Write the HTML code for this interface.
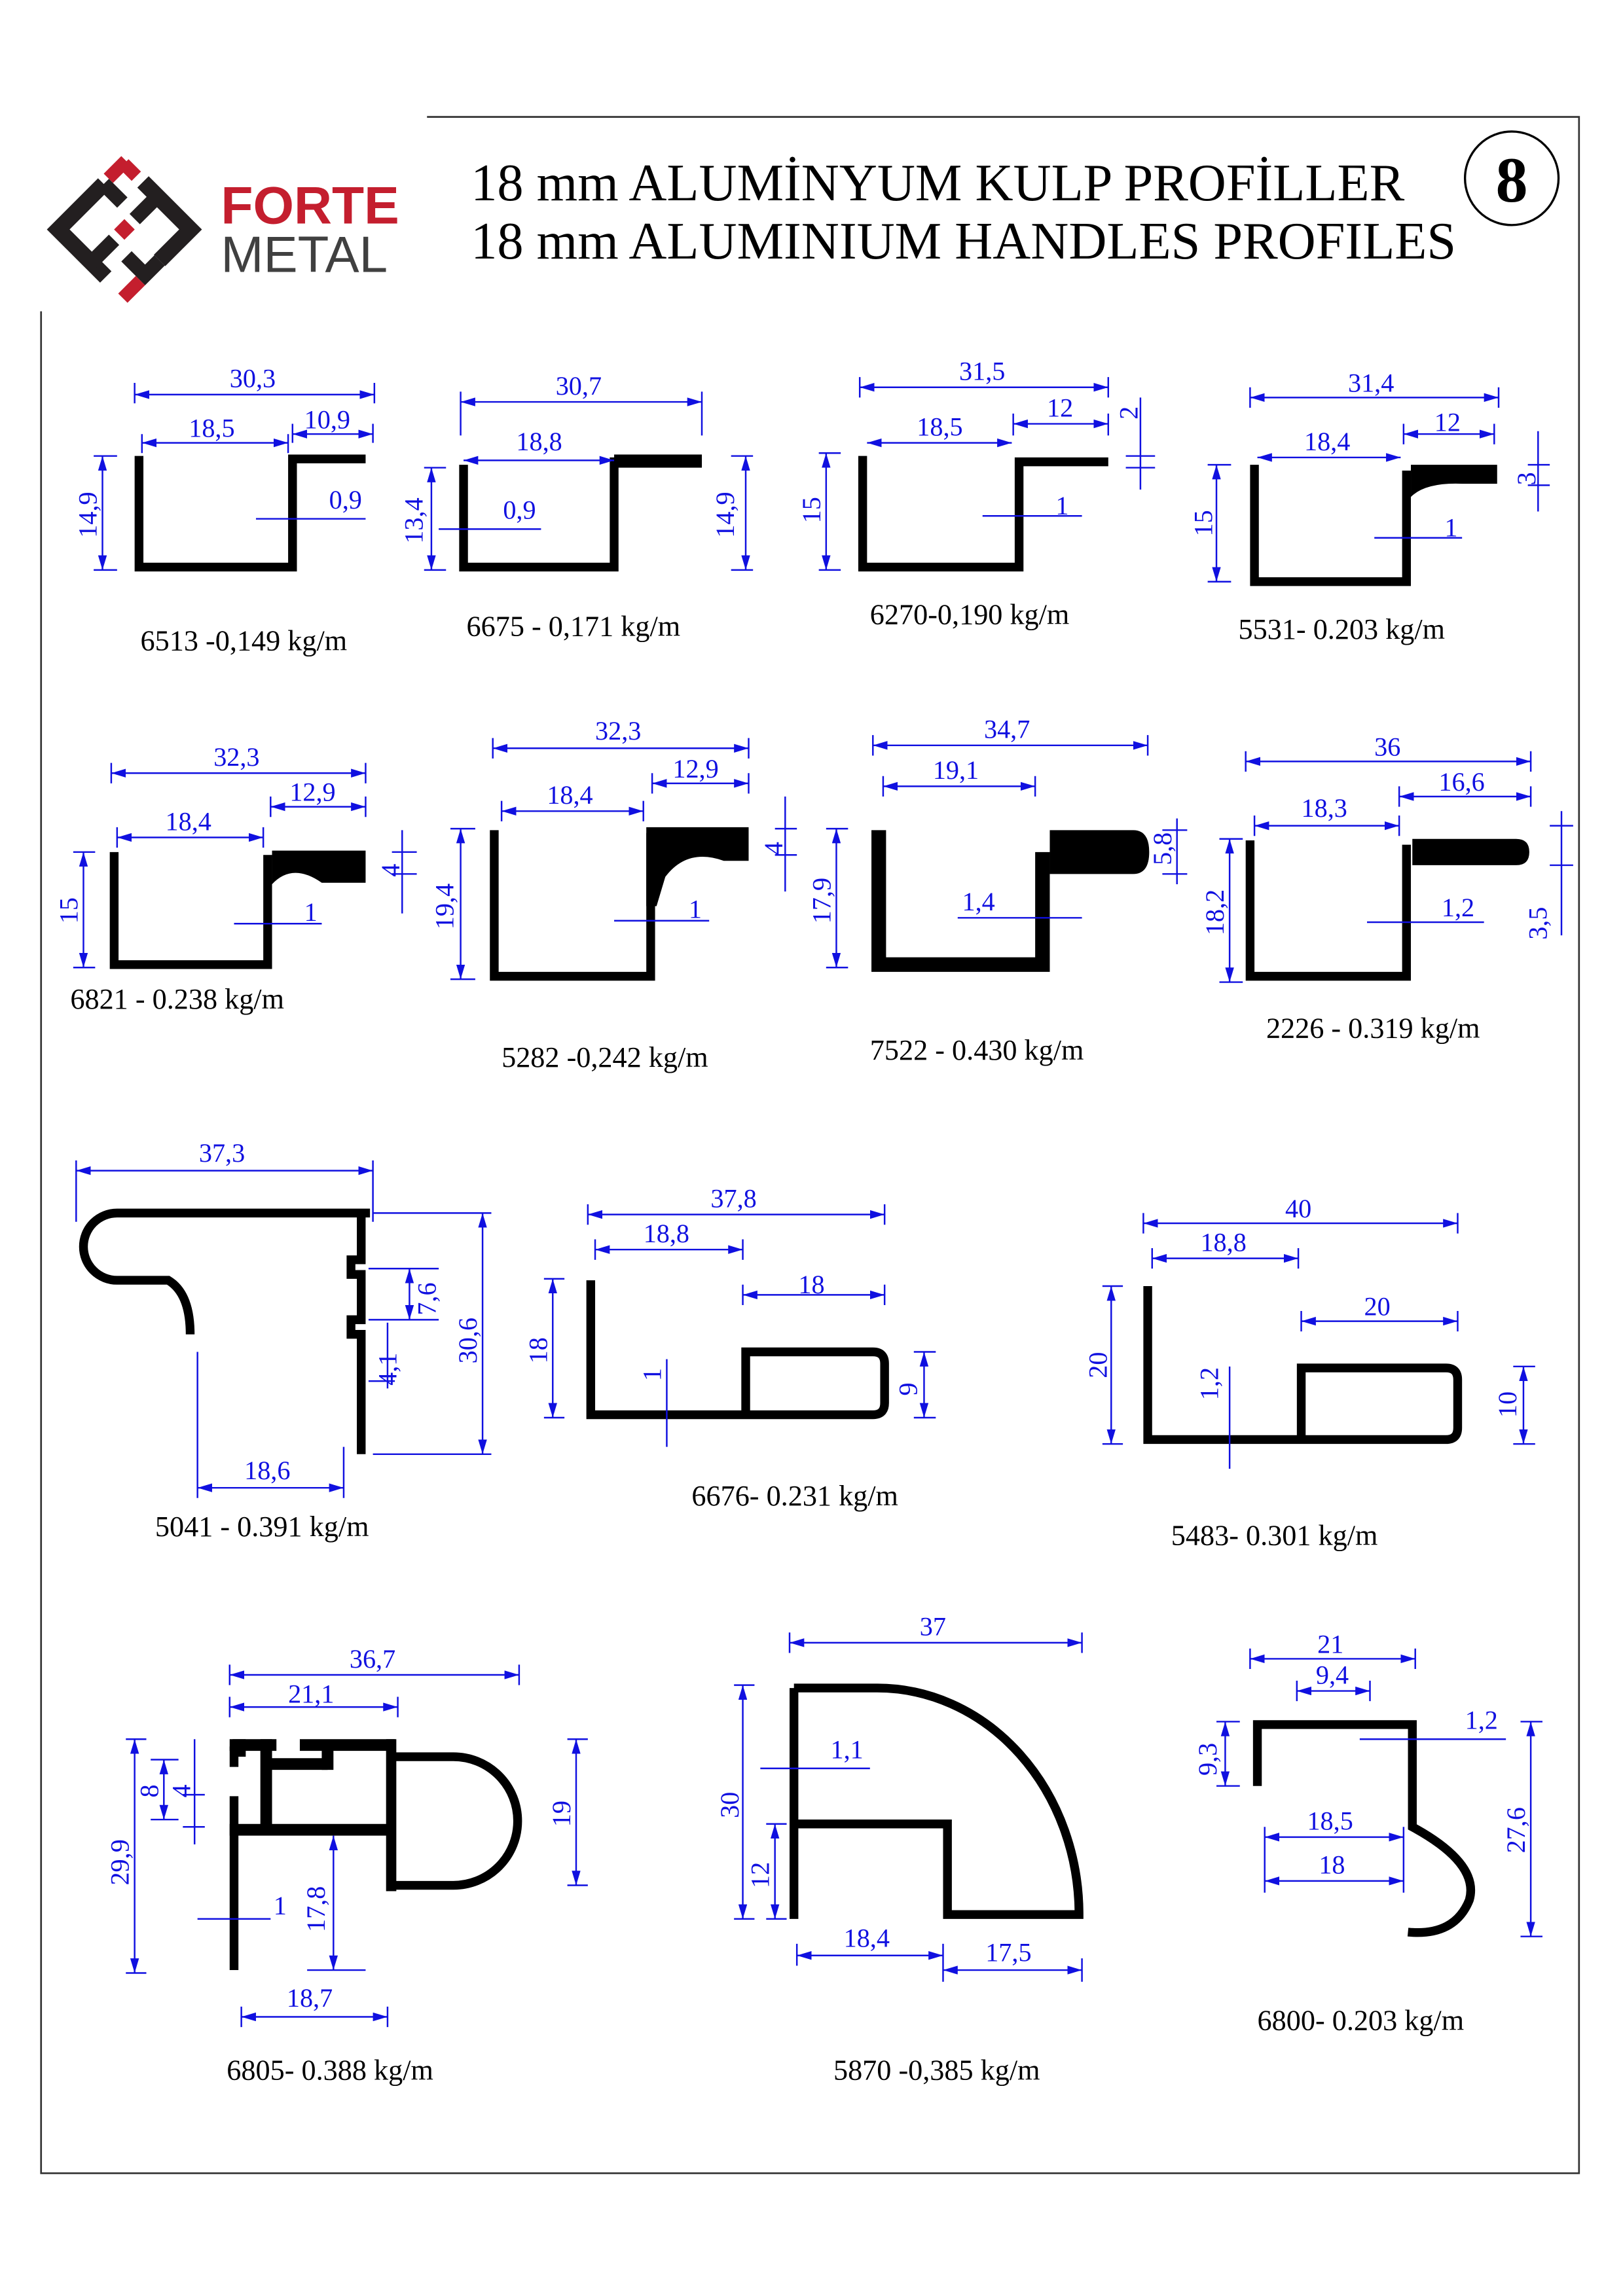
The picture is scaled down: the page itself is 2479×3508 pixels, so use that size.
<!DOCTYPE html>
<html><head><meta charset="utf-8"><style>
html,body{margin:0;padding:0;background:#fff}
svg{display:block}
.d{stroke:#1010e0;stroke-width:1.1;fill:none}
.a{stroke:#1010e0;stroke-width:1.1;fill:none;marker-start:url(#ms);marker-end:url(#me)}
.t{fill:#1010e0;font-family:"Liberation Serif",serif;font-size:18px}
.l{fill:#000;font-family:"Liberation Serif",serif;font-size:19.8px}
.p{stroke:#000;stroke-width:6;fill:none;stroke-linejoin:miter}
.f{fill:#000}
</style></head><body>
<svg width="2479" height="3508" viewBox="0 0 1110 1571" xmlns="http://www.w3.org/2000/svg">
<defs>
<marker id="me" viewBox="0 0 10 6" refX="10" refY="3" markerWidth="10" markerHeight="6" markerUnits="userSpaceOnUse" orient="auto"><path d="M0,0L10,3L0,6z" fill="#1010e0"/></marker>
<marker id="ms" viewBox="0 0 10 6" refX="0" refY="3" markerWidth="10" markerHeight="6" markerUnits="userSpaceOnUse" orient="auto"><path d="M10,0L0,3L10,6z" fill="#1010e0"/></marker>
</defs>
<rect width="1110" height="1571" fill="#fff"/>
<path d="M292,80H1080V1487H28V213" stroke="#333" stroke-width="1.2" fill="none"/>
<circle cx="1034" cy="122" r="32" stroke="#000" stroke-width="1.5" fill="none"/>
<text x="1034" y="138" text-anchor="middle" font-family="Liberation Serif,serif" font-size="44" font-weight="bold">8</text>
<text x="322" y="137" font-family="Liberation Serif,serif" font-size="36">18 mm ALUMİNYUM KULP PROFİLLER</text>
<text x="322" y="177" font-family="Liberation Serif,serif" font-size="36">18 mm ALUMINIUM HANDLES PROFILES</text>
<!-- logo -->
<g transform="translate(85,157) rotate(45)">
<path d="M-14,-32H32V-2" stroke="#231f20" stroke-width="11" fill="none"/>
<path d="M-32,-12V32H14" stroke="#231f20" stroke-width="11" fill="none"/>
<path d="M0,-32V-10M0,10V32" stroke="#231f20" stroke-width="10" fill="none"/>
<path d="M-32,-12H-14M14,12H32V-2" stroke="#231f20" stroke-width="10" fill="none"/>
<rect x="-5" y="-5" width="10" height="10" fill="#c41e2e"/>
<rect x="-32" y="-36" width="12" height="9" fill="#c41e2e" transform="translate(0,0)"/>
<rect x="-38" y="-30" width="9" height="0" fill="#c41e2e"/>
<rect x="-37" y="-34" width="9" height="17" fill="#c41e2e"/>
<rect x="28" y="17" width="9" height="17" fill="#c41e2e"/>
</g>
<text x="151" y="153" font-family="Liberation Sans,sans-serif" font-size="36" font-weight="bold" fill="#c41e2e">FORTE</text>
<text x="151" y="186" font-family="Liberation Sans,sans-serif" font-size="35" fill="#404040">METAL</text>

<!-- 6513 -->
<path class="p" d="M95,312V388H200V314H250"/>
<path class="d" d="M92,262V276M256,262V276M97,297V310M197,297V310M200,290V303M255,290V303M64,312H80M64,390H80"/>
<line class="a" x1="92" y1="270" x2="256" y2="270"/><text class="t" x="157" y="265">30,3</text>
<line class="a" x1="97" y1="303" x2="197" y2="303"/><text class="t" x="129" y="299">18,5</text>
<line class="a" x1="200" y1="297" x2="255" y2="297"/><text class="t" x="208" y="293">10,9</text>
<line class="a" x1="70" y1="312" x2="70" y2="390"/><text class="t" transform="translate(66,368) rotate(-90)">14,9</text>
<path class="d" d="M175,355H250"/><text class="t" x="225" y="348">0,9</text>
<text class="l" x="96" y="445">6513 -0,149 kg/m</text>

<!-- 6675 -->
<path class="p" d="M317,318V388H420V316H480"/><rect class="f" x="420" y="311" width="60" height="9"/>
<path class="d" d="M315,268V298M480,268V298M290,320H305M290,390H305M500,312H515M500,390H515"/>
<line class="a" x1="315" y1="275" x2="480" y2="275"/><text class="t" x="380" y="270">30,7</text>
<line class="a" x1="317" y1="315" x2="420" y2="315"/><text class="t" x="353" y="308">18,8</text>
<line class="a" x1="295" y1="320" x2="295" y2="390"/><text class="t" transform="translate(289,372) rotate(-90)">13,4</text>
<line class="a" x1="510" y1="312" x2="510" y2="390"/><text class="t" transform="translate(502,368) rotate(-90)">14,9</text>
<path class="d" d="M300,362H370"/><text class="t" x="344" y="355">0,9</text>
<text class="l" x="319" y="435">6675 - 0,171 kg/m</text>

<!-- 6270 -->
<path class="p" d="M590,312V388H697V316H758"/>
<path class="d" d="M588,258V272M758,258V272M693,283V298M758,283V298M560,310H575M560,390H575M770,312H790M770,320H790"/>
<line class="a" x1="588" y1="265" x2="758" y2="265"/><text class="t" x="656" y="260">31,5</text>
<line class="a" x1="593" y1="303" x2="692" y2="303"/><text class="t" x="627" y="298">18,5</text>
<line class="a" x1="693" y1="290" x2="758" y2="290"/><text class="t" x="716" y="285">12</text>
<line class="d" x1="780" y1="272" x2="780" y2="335"/><text class="t" transform="translate(778,287) rotate(-90)">2</text>
<line class="a" x1="565" y1="310" x2="565" y2="390"/><text class="t" transform="translate(561,358) rotate(-90)">15</text>
<path class="d" d="M672,353H740"/><text class="t" x="722" y="352">1</text>
<text class="l" x="595" y="427">6270-0,190 kg/m</text>

<!-- 5531 -->
<path class="p" d="M858,318V398H962V322"/><path class="f" d="M959,318H1024V331H1000Q975,330 965,340V318Z"/>
<path class="d" d="M855,265V279M1025,265V279M960,290V304M1022,290V304M826,318H842M826,398H842M1045,318H1060M1045,332H1060"/>
<line class="a" x1="855" y1="272" x2="1025" y2="272"/><text class="t" x="922" y="268">31,4</text>
<line class="a" x1="860" y1="313" x2="958" y2="313"/><text class="t" x="892" y="308">18,4</text>
<line class="a" x1="960" y1="297" x2="1022" y2="297"/><text class="t" x="981" y="295">12</text>
<line class="d" x1="1052" y1="295" x2="1052" y2="350"/><text class="t" transform="translate(1050,332) rotate(-90)">3</text>
<line class="a" x1="832" y1="318" x2="832" y2="398"/><text class="t" transform="translate(829,367) rotate(-90)">15</text>
<path class="d" d="M940,368H1000"/><text class="t" x="988" y="367">1</text>
<text class="l" x="847" y="437">5531- 0.203 kg/m</text>

<!-- 6821 -->
<path class="p" d="M78,583V660H183V585"/><path class="f" d="M180,582H250V604H220Q200,590 186,605V582Z"/>
<path class="d" d="M76,522V536M250,522V536M80,566V580M180,566V580M185,545V559M250,545V559M50,583H65M50,662H65M268,583H285M268,598H285"/>
<line class="a" x1="76" y1="529" x2="250" y2="529"/><text class="t" x="146" y="524">32,3</text>
<line class="a" x1="80" y1="573" x2="180" y2="573"/><text class="t" x="113" y="568">18,4</text>
<line class="a" x1="185" y1="552" x2="250" y2="552"/><text class="t" x="198" y="548">12,9</text>
<line class="d" x1="275" y1="568" x2="275" y2="625"/><text class="t" transform="translate(273,600) rotate(-90)">4</text>
<line class="a" x1="57" y1="583" x2="57" y2="662"/><text class="t" transform="translate(53,632) rotate(-90)">15</text>
<path class="d" d="M160,632H220"/><text class="t" x="208" y="630">1</text>
<text class="l" x="48" y="690">6821 - 0.238 kg/m</text>

<!-- 5282 -->
<path class="p" d="M338,568V668H445V570"/><path class="f" d="M442,566H512V589H495Q470,580 455,600L449,620H442Z"/>
<path class="d" d="M337,505V519M512,505V519M343,548V562M440,548V562M446,529V543M512,529V543M308,567H325M308,670H325M530,567H545M530,585H545"/>
<line class="a" x1="337" y1="512" x2="512" y2="512"/><text class="t" x="407" y="506">32,3</text>
<line class="a" x1="343" y1="555" x2="440" y2="555"/><text class="t" x="374" y="550">18,4</text>
<line class="a" x1="446" y1="536" x2="512" y2="536"/><text class="t" x="460" y="532">12,9</text>
<line class="d" x1="537" y1="545" x2="537" y2="610"/><text class="t" transform="translate(535,585) rotate(-90)">4</text>
<line class="a" x1="315" y1="567" x2="315" y2="670"/><text class="t" transform="translate(310,636) rotate(-90)">19,4</text>
<path class="d" d="M420,630H485"/><text class="t" x="471" y="628">1</text>
<text class="l" x="343" y="730">5282 -0,242 kg/m</text>

<!-- 7522 -->
<path d="M601,568V660H713V583" stroke="#000" stroke-width="10" fill="none"/>
<path class="f" d="M708,568H775Q786,568 786,583Q786,598 775,598H718V568Z"/>
<path class="d" d="M597,503V517M785,503V517M604,531V545M708,531V545M565,567H580M565,662H580M795,568H812M795,598H812"/>
<line class="a" x1="597" y1="510" x2="785" y2="510"/><text class="t" x="673" y="505">34,7</text>
<line class="a" x1="604" y1="538" x2="708" y2="538"/><text class="t" x="638" y="533">19,1</text>
<line class="d" x1="805" y1="560" x2="805" y2="605"/><text class="t" transform="translate(801,592) rotate(-90)">5,8</text>
<line class="a" x1="572" y1="567" x2="572" y2="662"/><text class="t" transform="translate(568,632) rotate(-90)">17,9</text>
<path class="d" d="M655,628H740"/><text class="t" x="658" y="623">1,4</text>
<text class="l" x="595" y="725">7522 - 0.430 kg/m</text>

<!-- 2226 -->
<path class="p" d="M855,575V668H962V578"/><path class="f" d="M958,574H1037Q1046,574 1046,583Q1046,592 1037,592H966V574Z"/>
<path class="d" d="M852,514V528M1047,514V528M858,558V572M957,558V572M957,538V552M1047,538V552M834,574H850M834,672H850M1060,565H1076M1060,592H1076"/>
<line class="a" x1="852" y1="521" x2="1047" y2="521"/><text class="t" x="940" y="517">36</text>
<line class="a" x1="858" y1="565" x2="957" y2="565"/><text class="t" x="890" y="559">18,3</text>
<line class="a" x1="957" y1="545" x2="1047" y2="545"/><text class="t" x="984" y="541">16,6</text>
<line class="a" x1="841" y1="574" x2="841" y2="672"/><text class="t" transform="translate(837,640) rotate(-90)">18,2</text>
<line class="d" x1="1068" y1="555" x2="1068" y2="640"/><text class="t" transform="translate(1058,643) rotate(-90)">3,5</text>
<path class="d" d="M935,631H1015"/><text class="t" x="986" y="627">1,2</text>
<text class="l" x="866" y="710">2226 - 0.319 kg/m</text>

<!-- 5041 -->
<path class="p" d="M253,830H80A23,23 0 0 0 80,876H115Q130,885 130,913"/>
<path class="p" d="M247,830V862H240V872H247V903H240V913H247V995"/>
<path class="d" d="M52,794V836M255,794V836M255,830H336M255,995H336M252,868H300M252,903H300M252,945H270M135,925V1025M235,990V1025"/>
<line class="a" x1="52" y1="801" x2="255" y2="801"/><text class="t" x="136" y="795">37,3</text>
<line class="a" x1="330" y1="830" x2="330" y2="995"/><text class="t" transform="translate(326,933) rotate(-90)">30,6</text>
<line class="a" x1="280" y1="868" x2="280" y2="903"/><text class="t" transform="translate(298,900) rotate(-90)">7,6</text>
<line class="d" x1="265" y1="905" x2="265" y2="950"/><text class="t" transform="translate(271,948) rotate(-90)">4,1</text>
<line class="a" x1="135" y1="1018" x2="235" y2="1018"/><text class="t" x="167" y="1012">18,6</text>
<text class="l" x="106" y="1051">5041 - 0.391 kg/m</text>

<!-- 6676 -->
<path class="p" d="M404,876V968H597Q605,968 605,960V933Q605,925 597,925H510V968"/>
<path class="d" d="M402,824V838M605,824V838M407,848V862M508,848V862M508,879V893M605,879V893M372,875H386M372,970H386M625,925H640M625,970H640"/>
<line class="a" x1="402" y1="831" x2="605" y2="831"/><text class="t" x="486" y="826">37,8</text>
<line class="a" x1="407" y1="855" x2="508" y2="855"/><text class="t" x="440" y="850">18,8</text>
<line class="a" x1="508" y1="886" x2="605" y2="886"/><text class="t" x="546" y="885">18</text>
<line class="a" x1="378" y1="875" x2="378" y2="970"/><text class="t" transform="translate(374,933) rotate(-90)">18</text>
<line class="a" x1="632" y1="925" x2="632" y2="970"/><text class="t" transform="translate(627,955) rotate(-90)">9</text>
<path class="d" d="M456,930V990"/><text class="t" transform="translate(452,945) rotate(-90)">1</text>
<text class="l" x="473" y="1030">6676- 0.231 kg/m</text>

<!-- 5483 -->
<path class="p" d="M785,880V985H989Q997,985 997,977V944Q997,936 989,936H890V985"/>
<path class="d" d="M782,830V844M997,830V844M788,854V868M888,854V868M890,897V911M997,897V911M754,880H768M754,988H768M1035,935H1050M1035,988H1050"/>
<line class="a" x1="782" y1="837" x2="997" y2="837"/><text class="t" x="879" y="833">40</text>
<line class="a" x1="788" y1="861" x2="888" y2="861"/><text class="t" x="821" y="856">18,8</text>
<line class="a" x1="890" y1="904" x2="997" y2="904"/><text class="t" x="933" y="900">20</text>
<line class="a" x1="760" y1="880" x2="760" y2="988"/><text class="t" transform="translate(757,943) rotate(-90)">20</text>
<line class="a" x1="1042" y1="935" x2="1042" y2="988"/><text class="t" transform="translate(1037,970) rotate(-90)">10</text>
<path class="d" d="M841,935V1005"/><text class="t" transform="translate(833,958) rotate(-90)">1,2</text>
<text class="l" x="801" y="1057">5483- 0.301 kg/m</text>

<!-- 6805 -->
<path class="p" d="M160,1195V1209M160,1229V1348"/>
<rect class="f" x="157" y="1190" width="32" height="8"/>
<rect class="f" x="159" y="1190" width="9" height="12"/>
<rect class="f" x="178" y="1190" width="8" height="60"/>
<rect class="f" x="205" y="1190" width="65" height="8"/>
<rect class="f" x="182" y="1203" width="42" height="8"/>
<rect class="f" x="220" y="1194" width="8" height="17"/>
<rect class="f" x="157" y="1248" width="113" height="8"/>
<rect class="f" x="264" y="1190" width="7" height="104"/>
<path class="p" d="M268,1202H310A44,44 0 0 1 310,1290H268" stroke-width="7"/>
<path class="d" d="M86,1190H100M86,1350H100M103,1204H122M103,1245H122M125,1228H140M125,1250H140M388,1190H402M388,1290H402M157,1139V1153M355,1139V1153M157,1161V1175M272,1161V1175M210,1348H250M165,1373V1387M265,1373V1387"/>
<line class="a" x1="157" y1="1146" x2="355" y2="1146"/><text class="t" x="239" y="1141">36,7</text>
<line class="a" x1="157" y1="1168" x2="272" y2="1168"/><text class="t" x="197" y="1165">21,1</text>
<line class="a" x1="92" y1="1190" x2="92" y2="1350"/><text class="t" transform="translate(88,1290) rotate(-90)">29,9</text>
<line class="a" x1="112" y1="1204" x2="112" y2="1245"/><text class="t" transform="translate(108,1230) rotate(-90)">8</text>
<line class="d" x1="133" y1="1190" x2="133" y2="1262"/><text class="t" transform="translate(130,1230) rotate(-90)">4</text>
<line class="a" x1="394" y1="1190" x2="394" y2="1290"/><text class="t" transform="translate(390,1250) rotate(-90)">19</text>
<line class="a" x1="228" y1="1256" x2="228" y2="1348"/><text class="t" transform="translate(222,1322) rotate(-90)">17,8</text>
<path class="d" d="M135,1313H185"/><text class="t" x="187" y="1310">1</text>
<line class="a" x1="165" y1="1380" x2="265" y2="1380"/><text class="t" x="196" y="1373">18,7</text>
<text class="l" x="155" y="1423">6805- 0.388 kg/m</text>

<!-- 5870 -->
<path class="p" d="M543,1155V1313M543,1155H600A138,155 0 0 1 738,1310H648V1248H543"/>
<path class="d" d="M540,1117V1131M740,1117V1131M502,1153H516M502,1313H516M524,1248H538M524,1313H538M545,1330V1345M645,1330V1356M740,1340V1356"/>
<line class="a" x1="540" y1="1124" x2="740" y2="1124"/><text class="t" x="629" y="1119">37</text>
<line class="a" x1="508" y1="1153" x2="508" y2="1313"/><text class="t" transform="translate(505,1244) rotate(-90)">30</text>
<line class="a" x1="530" y1="1248" x2="530" y2="1313"/><text class="t" transform="translate(526,1292) rotate(-90)">12</text>
<path class="d" d="M520,1210H595"/><text class="t" x="568" y="1203">1,1</text>
<line class="a" x1="545" y1="1338" x2="645" y2="1338"/><text class="t" x="577" y="1332">18,4</text>
<line class="a" x1="645" y1="1348" x2="740" y2="1348"/><text class="t" x="674" y="1342">17,5</text>
<text class="l" x="570" y="1423">5870 -0,385 kg/m</text>

<!-- 6800 -->
<path class="p" d="M860,1222V1180H966V1250Q1012,1275 1005,1300Q995,1325 963,1322"/>
<path class="d" d="M855,1128V1142M968,1128V1142M887,1150V1164M937,1150V1164M832,1178H848M832,1222H848M1040,1178H1055M1040,1325H1055M865,1250V1295M960,1250V1295"/>
<line class="a" x1="855" y1="1135" x2="968" y2="1135"/><text class="t" x="901" y="1131">21</text>
<line class="a" x1="887" y1="1157" x2="937" y2="1157"/><text class="t" x="900" y="1152">9,4</text>
<line class="a" x1="838" y1="1178" x2="838" y2="1222"/><text class="t" transform="translate(832,1215) rotate(-90)">9,3</text>
<path class="d" d="M930,1190H1030"/><text class="t" x="1002" y="1183">1,2</text>
<line class="a" x1="865" y1="1257" x2="960" y2="1257"/><text class="t" x="894" y="1252">18,5</text>
<line class="a" x1="865" y1="1287" x2="960" y2="1287"/><text class="t" x="902" y="1282">18</text>
<line class="a" x1="1047" y1="1178" x2="1047" y2="1325"/><text class="t" transform="translate(1043,1268) rotate(-90)">27,6</text>
<text class="l" x="860" y="1389">6800- 0.203 kg/m</text>
</svg>
</body></html>
